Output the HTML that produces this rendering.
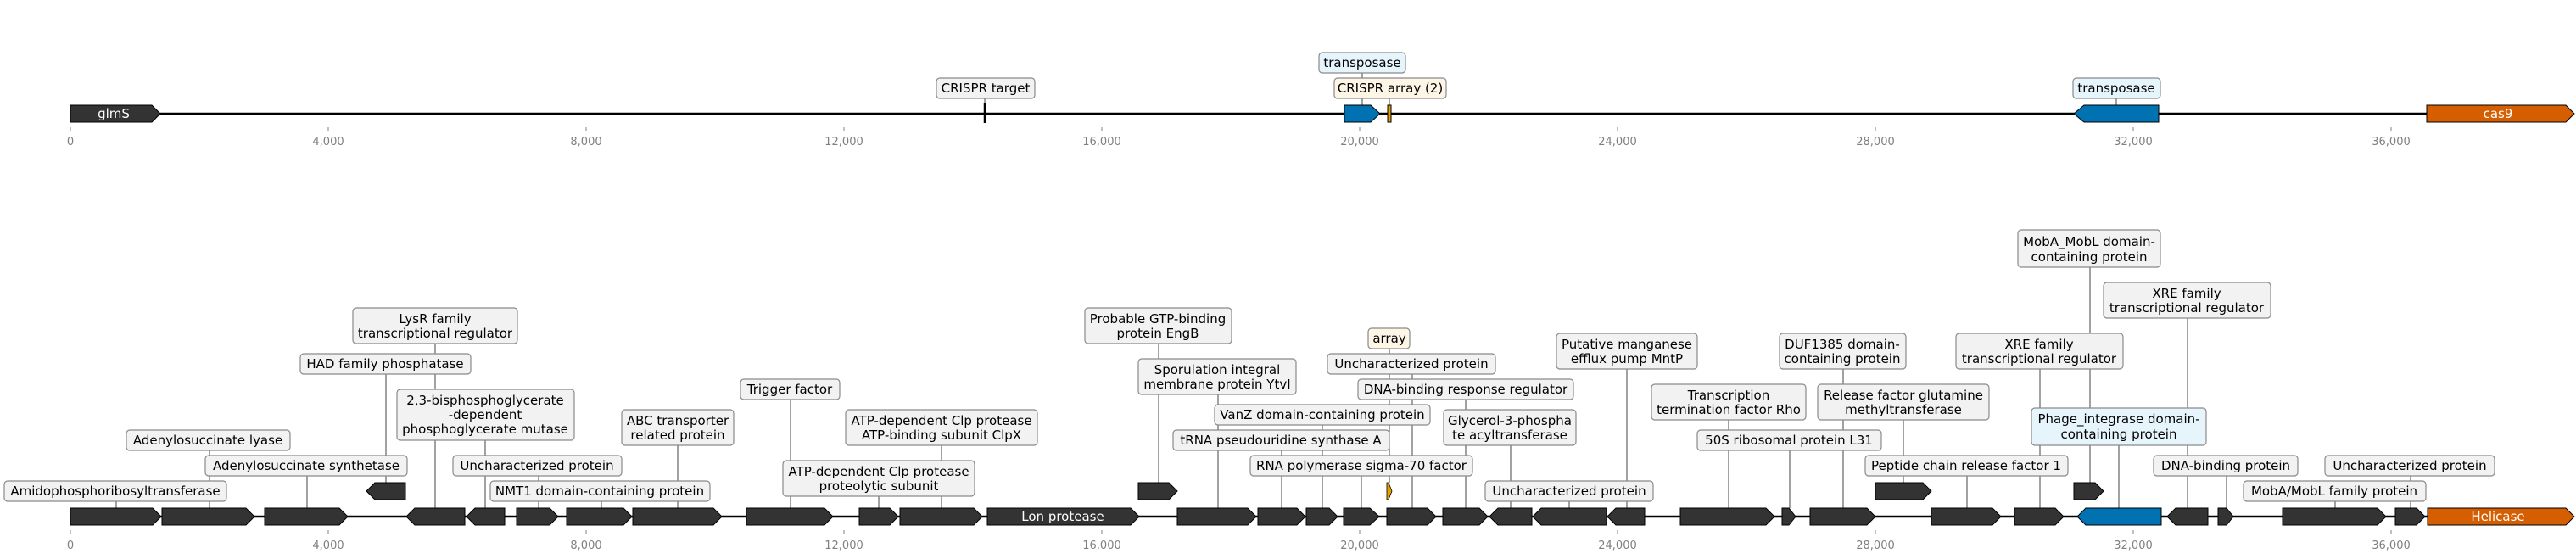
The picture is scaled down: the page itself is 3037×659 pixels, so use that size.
<!DOCTYPE html>
<html><head><meta charset="utf-8"><style>
html,body{margin:0;padding:0;background:#fff;}
svg{display:block;}
text{font-family:"DejaVu Sans","Liberation Sans",sans-serif;}
.lb{font-size:15px;fill:#000;text-anchor:middle;}
.tk{font-size:13px;fill:#808080;text-anchor:middle;}
.bx{fill:#f2f2f2;stroke:#8a8a8a;stroke-width:1.2;}
.bb{fill:#e6f4fc;stroke:#8a8a8a;stroke-width:1.2;}
.bc{fill:#fdf6e6;stroke:#8a8a8a;stroke-width:1.2;}
.cn{stroke:#444;stroke-width:1;}
.g{fill:#333;stroke:#000;stroke-width:1;}
.tl{stroke:#808080;stroke-width:1;}
.wt{font-size:15px;fill:#fff;text-anchor:middle;}
</style></head><body>
<svg width="3037" height="659" viewBox="0 0 3037 659" xmlns="http://www.w3.org/2000/svg">
<!-- TOP TRACK -->
<line x1="83" y1="134" x2="2862" y2="134" stroke="#000" stroke-width="2.5"/>
<g class="tl">
<line x1="83" y1="150" x2="83" y2="155"/><line x1="387" y1="150" x2="387" y2="155"/><line x1="691" y1="150" x2="691" y2="155"/><line x1="995" y1="150" x2="995" y2="155"/><line x1="1299" y1="150" x2="1299" y2="155"/><line x1="1603" y1="150" x2="1603" y2="155"/><line x1="1907" y1="150" x2="1907" y2="155"/><line x1="2211" y1="150" x2="2211" y2="155"/><line x1="2515" y1="150" x2="2515" y2="155"/><line x1="2819" y1="150" x2="2819" y2="155"/>
</g>
<g class="tk">
<text x="83" y="171">0</text><text x="387" y="171">4,000</text><text x="691" y="171">8,000</text><text x="995" y="171">12,000</text><text x="1299" y="171">16,000</text><text x="1603" y="171">20,000</text><text x="1907" y="171">24,000</text><text x="2211" y="171">28,000</text><text x="2515" y="171">32,000</text><text x="2819" y="171">36,000</text>
</g>
<!-- connectors top -->
<line class="cn" x1="1161" y1="116" x2="1161" y2="124"/>
<line class="cn" x1="1606" y1="86" x2="1606" y2="124"/>
<line class="cn" x1="1638" y1="116" x2="1638" y2="124"/>
<line class="cn" x1="2495" y1="116" x2="2495" y2="124"/>
<polygon class="g" points="83,124 179,124 189,134 179,144 83,144"/>
<text class="wt" x="134" y="139">glmS</text>
<line x1="1161" y1="122" x2="1161" y2="145" stroke="#000" stroke-width="2.5"/>
<polygon points="1585,124 1616,124 1627,134 1616,144 1585,144" fill="#0072b2" stroke="#000" stroke-width="1"/>
<rect x="1636" y="124" width="4" height="20" fill="#e69f00" stroke="#000" stroke-width="1"/>
<polygon points="2445,134 2457,124 2545,124 2545,144 2457,144" fill="#0072b2" stroke="#000" stroke-width="1"/>
<polygon points="2861,124 3025,124 3035,134 3025,144 2861,144" fill="#d55e00" stroke="#000" stroke-width="1"/>
<text class="wt" x="2945" y="139">cas9</text>
<rect class="bx" x="1104" y="92" width="116" height="24" rx="4"/><text class="lb" x="1162" y="109">CRISPR target</text>
<rect class="bc" x="1573" y="92" width="132" height="24" rx="4"/><text class="lb" x="1639" y="109">CRISPR array (2)</text>
<rect class="bb" x="1555" y="62" width="102" height="24" rx="4"/><text class="lb" x="1606" y="79">transposase</text>
<rect class="bb" x="2444" y="92" width="103" height="24" rx="4"/><text class="lb" x="2495" y="109">transposase</text>

<!-- BOTTOM TRACK -->
<line x1="83" y1="609" x2="2862" y2="609" stroke="#000" stroke-width="2.5"/>
<g class="tl">
<line x1="83" y1="625" x2="83" y2="630"/><line x1="387" y1="625" x2="387" y2="630"/><line x1="691" y1="625" x2="691" y2="630"/><line x1="995" y1="625" x2="995" y2="630"/><line x1="1299" y1="625" x2="1299" y2="630"/><line x1="1603" y1="625" x2="1603" y2="630"/><line x1="1907" y1="625" x2="1907" y2="630"/><line x1="2211" y1="625" x2="2211" y2="630"/><line x1="2515" y1="625" x2="2515" y2="630"/><line x1="2819" y1="625" x2="2819" y2="630"/>
</g>
<g class="tk">
<text x="83" y="647">0</text><text x="387" y="647">4,000</text><text x="691" y="647">8,000</text><text x="995" y="647">12,000</text><text x="1299" y="647">16,000</text><text x="1603" y="647">20,000</text><text x="1907" y="647">24,000</text><text x="2211" y="647">28,000</text><text x="2515" y="647">32,000</text><text x="2819" y="647">36,000</text>
</g>
<!-- connectors bottom -->
<g class="cn">
<line x1="137" y1="591" x2="137" y2="599"/>
<line x1="247" y1="531" x2="247" y2="599"/>
<line x1="362" y1="561" x2="362" y2="599"/>
<line x1="455" y1="441" x2="455" y2="569"/>
<line x1="513" y1="405" x2="513" y2="599"/>
<line x1="572" y1="519" x2="572" y2="599"/>
<line x1="635" y1="561" x2="635" y2="599"/>
<line x1="709" y1="591" x2="709" y2="599"/>
<line x1="799" y1="525" x2="799" y2="599"/>
<line x1="932" y1="471" x2="932" y2="599"/>
<line x1="1036" y1="585" x2="1036" y2="599"/>
<line x1="1110" y1="525" x2="1110" y2="599"/>
<line x1="1366" y1="405" x2="1366" y2="569"/>
<line x1="1436" y1="465" x2="1436" y2="599"/>
<line x1="1559" y1="501" x2="1559" y2="599"/>
<line x1="1511" y1="531" x2="1511" y2="599"/>
<line x1="1605" y1="561" x2="1605" y2="599"/>
<line x1="1638" y1="411" x2="1638" y2="569"/>
<line x1="1665" y1="441" x2="1665" y2="599"/>
<line x1="1728" y1="471" x2="1728" y2="599"/>
<line x1="1781" y1="525" x2="1781" y2="599"/>
<line x1="1850" y1="591" x2="1850" y2="599"/>
<line x1="1918" y1="435" x2="1918" y2="599"/>
<line x1="2038" y1="495" x2="2038" y2="599"/>
<line x1="2110" y1="531" x2="2110" y2="599"/>
<line x1="2173" y1="435" x2="2173" y2="599"/>
<line x1="2244" y1="495" x2="2244" y2="569"/>
<line x1="2319" y1="561" x2="2319" y2="599"/>
<line x1="2405" y1="435" x2="2405" y2="599"/>
<line x1="2464" y1="315" x2="2464" y2="569"/>
<line x1="2579" y1="375" x2="2579" y2="599"/>
<line x1="2498" y1="525" x2="2498" y2="599"/>
<line x1="2625" y1="561" x2="2625" y2="599"/>
<line x1="2842" y1="561" x2="2842" y2="599"/>
<line x1="2753" y1="591" x2="2753" y2="599"/>
</g>
<!-- genes -->
<polygon class="g" points="83,599 180,599 190,609 180,619 83,619"/>
<polygon class="g" points="191,599 290,599 300,609 290,619 191,619"/>
<polygon class="g" points="312,599 400,599 410,609 400,619 312,619"/>
<polygon class="g" points="432,579 442,569 478,569 478,589 442,589"/>
<polygon class="g" points="479,609 489,599 548,599 548,619 489,619"/>
<polygon class="g" points="550,609 560,599 595,599 595,619 560,619"/>
<polygon class="g" points="609,599 648,599 658,609 648,619 609,619"/>
<polygon class="g" points="668,599 735,599 745,609 735,619 668,619"/>
<polygon class="g" points="746,599 841,599 851,609 841,619 746,619"/>
<polygon class="g" points="880,599 972,599 982,609 972,619 880,619"/>
<polygon class="g" points="1013,599 1049,599 1059,609 1049,619 1013,619"/>
<polygon class="g" points="1061,599 1148,599 1158,609 1148,619 1061,619"/>
<polygon class="g" points="1164,599 1333,599 1343,609 1333,619 1164,619"/>
<text class="wt" x="1253" y="614">Lon protease</text>
<polygon class="g" points="1342,569 1378,569 1388,579 1378,589 1342,589"/>
<polygon class="g" points="1388,599 1471,599 1481,609 1471,619 1388,619"/>
<polygon class="g" points="1483,599 1529,599 1539,609 1529,619 1483,619"/>
<polygon class="g" points="1540,599 1567,599 1577,609 1567,619 1540,619"/>
<polygon class="g" points="1584,599 1615,599 1626,609 1615,619 1584,619"/>
<polygon points="1635,569 1637,569 1641,579 1637,589 1635,589" fill="#e69f00" stroke="#000" stroke-width="0.8"/>
<polygon class="g" points="1635,599 1683,599 1693,609 1683,619 1635,619"/>
<polygon class="g" points="1701,599 1744,599 1754,609 1744,619 1701,619"/>
<polygon class="g" points="1756,609 1766,599 1806,599 1806,619 1766,619"/>
<polygon class="g" points="1807,609 1817,599 1894,599 1894,619 1817,619"/>
<polygon class="g" points="1895,609 1905,599 1939,599 1939,619 1905,619"/>
<polygon class="g" points="1981,599 2082,599 2092,609 2082,619 1981,619"/>
<polygon class="g" points="2101,599 2109,599 2117,609 2109,619 2101,619"/>
<polygon class="g" points="2134,599 2201,599 2211,609 2201,619 2134,619"/>
<polygon class="g" points="2211,569 2267,569 2277,579 2267,589 2211,589"/>
<polygon class="g" points="2277,599 2349,599 2359,609 2349,619 2277,619"/>
<polygon class="g" points="2375,599 2423,599 2433,609 2423,619 2375,619"/>
<polygon class="g" points="2445,569 2470,569 2480,579 2470,589 2445,589"/>
<polygon points="2449,609 2459,599 2548,599 2548,619 2459,619" fill="#0072b2" stroke="#000" stroke-width="1"/>
<polygon class="g" points="2555,609 2565,599 2603,599 2603,619 2565,619"/>
<polygon class="g" points="2615,599 2625,599 2633,609 2625,619 2615,619"/>
<polygon class="g" points="2691,599 2803,599 2813,609 2803,619 2691,619"/>
<polygon class="g" points="2824,599 2849,599 2859,609 2849,619 2824,619"/>
<polygon points="2862,599 3025,599 3035,609 3025,619 2862,619" fill="#d55e00" stroke="#000" stroke-width="1"/>
<text class="wt" x="2945" y="614">Helicase</text>

<!-- labels bottom -->
<rect class="bx" x="5" y="567" width="262" height="24" rx="4"/><text class="lb" x="136" y="584">Amidophosphoribosyltransferase</text>
<rect class="bx" x="149" y="507" width="193" height="24" rx="4"/><text class="lb" x="245" y="524">Adenylosuccinate lyase</text>
<rect class="bx" x="242" y="537" width="238" height="24" rx="4"/><text class="lb" x="361" y="554">Adenylosuccinate synthetase</text>
<rect class="bx" x="354" y="417" width="201" height="24" rx="4"/><text class="lb" x="454" y="434">HAD family phosphatase</text>
<rect class="bx" x="416" y="363" width="194" height="42" rx="4"/><text class="lb" x="513" y="381">LysR family</text><text class="lb" x="513" y="398">transcriptional regulator</text>
<rect class="bx" x="468" y="459" width="209" height="60" rx="4"/><text class="lb" x="572" y="477">2,3-bisphosphoglycerate</text><text class="lb" x="572" y="494">-dependent</text><text class="lb" x="572" y="511">phosphoglycerate mutase</text>
<rect class="bx" x="534" y="537" width="199" height="24" rx="4"/><text class="lb" x="633" y="554">Uncharacterized protein</text>
<rect class="bx" x="578" y="567" width="259" height="24" rx="4"/><text class="lb" x="707" y="584">NMT1 domain-containing protein</text>
<rect class="bx" x="733" y="483" width="132" height="42" rx="4"/><text class="lb" x="799" y="501">ABC transporter</text><text class="lb" x="799" y="518">related protein</text>
<rect class="bx" x="873" y="447" width="117" height="24" rx="4"/><text class="lb" x="931" y="464">Trigger factor</text>
<rect class="bx" x="923" y="543" width="226" height="42" rx="4"/><text class="lb" x="1036" y="561">ATP-dependent Clp protease</text><text class="lb" x="1036" y="578">proteolytic subunit</text>
<rect class="bx" x="997" y="483" width="226" height="42" rx="4"/><text class="lb" x="1110" y="501">ATP-dependent Clp protease</text><text class="lb" x="1110" y="518">ATP-binding subunit ClpX</text>
<rect class="bx" x="1279" y="363" width="173" height="42" rx="4"/><text class="lb" x="1365" y="381">Probable GTP-binding</text><text class="lb" x="1365" y="398">protein EngB</text>
<rect class="bx" x="1342" y="423" width="186" height="42" rx="4"/><text class="lb" x="1435" y="441">Sporulation integral</text><text class="lb" x="1435" y="458">membrane protein YtvI</text>
<rect class="bx" x="1432" y="477" width="254" height="24" rx="4"/><text class="lb" x="1559" y="494">VanZ domain-containing protein</text>
<rect class="bx" x="1383" y="507" width="255" height="24" rx="4"/><text class="lb" x="1510" y="524">tRNA pseudouridine synthase A</text>
<rect class="bx" x="1474" y="537" width="262" height="24" rx="4"/><text class="lb" x="1605" y="554">RNA polymerase sigma-70 factor</text>
<rect class="bc" x="1613" y="387" width="49" height="24" rx="4"/><text class="lb" x="1638" y="404">array</text>
<rect class="bx" x="1565" y="417" width="198" height="24" rx="4"/><text class="lb" x="1664" y="434">Uncharacterized protein</text>
<rect class="bx" x="1601" y="447" width="254" height="24" rx="4"/><text class="lb" x="1728" y="464">DNA-binding response regulator</text>
<rect class="bx" x="1702" y="483" width="156" height="42" rx="4"/><text class="lb" x="1780" y="501">Glycerol-3-phospha</text><text class="lb" x="1780" y="518">te acyltransferase</text>
<rect class="bx" x="1751" y="567" width="198" height="24" rx="4"/><text class="lb" x="1850" y="584">Uncharacterized protein</text>
<rect class="bx" x="1835" y="393" width="166" height="42" rx="4"/><text class="lb" x="1918" y="411">Putative manganese</text><text class="lb" x="1918" y="428">efflux pump MntP</text>
<rect class="bx" x="1947" y="453" width="182" height="42" rx="4"/><text class="lb" x="2038" y="471">Transcription</text><text class="lb" x="2038" y="488">termination factor Rho</text>
<rect class="bx" x="2001" y="507" width="217" height="24" rx="4"/><text class="lb" x="2109" y="524">50S ribosomal protein L31</text>
<rect class="bx" x="2098" y="393" width="149" height="42" rx="4"/><text class="lb" x="2172" y="411">DUF1385 domain-</text><text class="lb" x="2172" y="428">containing protein</text>
<rect class="bx" x="2143" y="453" width="202" height="42" rx="4"/><text class="lb" x="2244" y="471">Release factor glutamine</text><text class="lb" x="2244" y="488">methyltransferase</text>
<rect class="bx" x="2199" y="537" width="239" height="24" rx="4"/><text class="lb" x="2318" y="554">Peptide chain release factor 1</text>
<rect class="bx" x="2306" y="393" width="197" height="42" rx="4"/><text class="lb" x="2404" y="411">XRE family</text><text class="lb" x="2404" y="428">transcriptional regulator</text>
<rect class="bx" x="2379" y="271" width="168" height="44" rx="4"/><text class="lb" x="2463" y="290">MobA_MobL domain-</text><text class="lb" x="2463" y="308">containing protein</text>
<rect class="bx" x="2480" y="333" width="197" height="42" rx="4"/><text class="lb" x="2578" y="351">XRE family</text><text class="lb" x="2578" y="368">transcriptional regulator</text>
<rect class="bb" x="2395" y="481" width="206" height="44" rx="4"/><text class="lb" x="2498" y="499">Phage_integrase domain-</text><text class="lb" x="2498" y="517">containing protein</text>
<rect class="bx" x="2539" y="537" width="170" height="24" rx="4"/><text class="lb" x="2624" y="554">DNA-binding protein</text>
<rect class="bx" x="2741" y="537" width="200" height="24" rx="4"/><text class="lb" x="2841" y="554">Uncharacterized protein</text>
<rect class="bx" x="2645" y="567" width="215" height="24" rx="4"/><text class="lb" x="2752" y="584">MobA/MobL family protein</text>
</svg>
</body></html>
